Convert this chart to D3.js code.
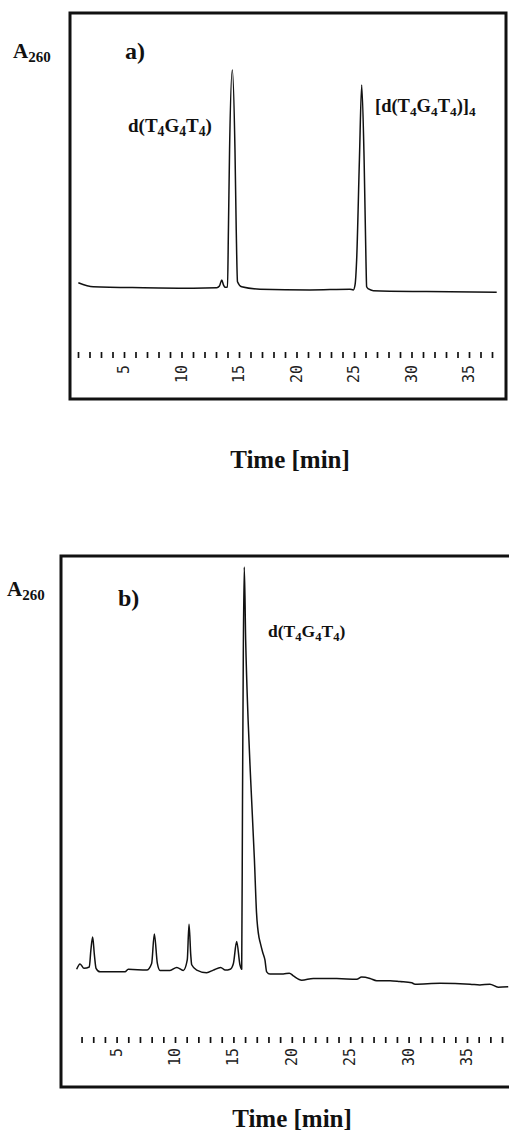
<!DOCTYPE html>
<html>
<head>
<meta charset="utf-8">
<script src="https://cdn.jsdelivr.net/npm/d3@7"></script>
<style>
  html, body { margin: 0; padding: 0; background: #fff; }
  svg { display: block; }
</style>
</head>
<body>
<div id="chart"></div>
<script>
// panel a) trace: retention time [min] and relative A260
const timesA = [1.03, 2.33, 6.68, 11.03, 13.06, 13.3, 13.5, 13.65, 13.78, 14.0, 14.08, 14.18, 14.42,
    14.65, 14.76, 14.87, 15.23, 16.83, 21.17, 24.65, 24.94, 25.09, 25.23, 25.47, 25.67, 25.88,
    26.04, 26.1, 26.26, 26.68, 31.32, 37.41];
const signalA = [7.2, 5.5, 5.1, 4.9, 5.1, 5.8, 8.3, 6.3, 5.3, 5.4, 29.2, 62.5, 95.8,
    62.5, 29.2, 7.6, 5.5, 4.5, 4.2, 4.5, 4.2, 6.3, 16.7, 58.3, 89.6, 58.3,
    16.7, 5.5, 4.6, 3.9, 3.5, 3.2];

// panel b) trace
const timesB = [1.58, 1.87, 2.21, 2.66, 2.8, 2.95, 3.1, 3.24, 3.58, 5.72, 6.0, 7.58, 8.0, 8.23, 8.49,
    8.72, 9.57, 10.15, 10.71, 11.05, 11.2, 11.35, 11.43, 11.86, 12.71, 13.28, 13.91, 14.3, 14.73,
    15.0, 15.28, 15.56, 15.71, 15.78, 15.85, 15.93, 16.05, 16.26, 16.48, 16.8, 16.98, 17.2, 17.28,
    17.5, 17.7, 17.85, 18.13, 19.27, 19.79, 20.13, 20.85, 21.84, 23.84, 25.56, 25.98, 26.7, 27.27,
    28.41, 29.26, 30.27, 30.55, 32.69, 35.26, 36.1, 36.96, 37.67, 38.53];
const signalB = [7.0, 8.2, 7.2, 7.5, 11.4, 14.3, 10.2, 7.2, 6.4, 6.4, 7.0, 6.8, 8.3, 15.0, 8.3,
    6.7, 6.7, 7.4, 6.7, 9.1, 17.2, 10.2, 8.0, 6.8, 6.2, 6.8, 7.4, 6.8, 7.0,
    8.3, 13.3, 8.0, 7.0, 45.5, 79.5, 98.4, 81.8, 63.6, 50.0, 31.8, 19.8, 14.1, 13.2,
    10.9, 9.1, 6.4, 5.9, 5.9, 6.1, 5.5, 4.5, 4.9, 4.9, 4.7, 5.2, 4.9, 4.4,
    4.4, 4.2, 3.9, 3.6, 3.8, 3.6, 3.4, 3.6, 2.9, 3.0];

const tickMinutesA = d3.range(1, 38);
const tickMinutesB = d3.range(2, 39);
const tickLabels = [5, 10, 15, 20, 25, 30, 35];

const axisTitle = 'Time [min]';
// label pieces: [text, isSubscript]
const yTitle = [['A', false], ['260', true]];
const monomer = [['d(T', false], ['4', true], ['G', false], ['4', true], ['T', false], ['4', true], [')', false]];
const quadruplex = [['[d(T', false], ['4', true], ['G', false], ['4', true], ['T', false], ['4', true], [')]', false], ['4', true]];

const width = 509, height = 1131;
const serif = '"Liberation Serif", "Times New Roman", serif';
const ink = '#111';

const svg = d3.select('#chart').append('svg')
    .attr('width', width)
    .attr('height', height);

function richText(g, x, y, parts, size, subSize, anchor) {
    const t = g.append('text')
        .attr('x', x)
        .attr('y', y)
        .attr('font-family', serif)
        .attr('font-weight', 'bold')
        .attr('font-size', size)
        .attr('fill', ink)
        .attr('text-anchor', anchor || 'start');
    let down = false;
    parts.forEach(([txt, sub]) => {
        const dy = sub === down ? 0 : (sub ? size * 0.2 : -size * 0.2);
        t.append('tspan')
            .attr('dy', dy)
            .attr('font-size', sub ? subSize : size)
            .text(txt);
        down = sub;
    });
    return t;
}

function panel(cfg) {
    const x = d3.scaleLinear().domain([0, 40]).range([cfg.x0, cfg.x0 + 40 * cfg.pxPerMin]);
    const y = d3.scaleLinear().domain([0, 100]).range([cfg.yBase, cfg.yTop]);

    const g = svg.append('g');

    // frame
    g.append('rect')
        .attr('x', cfg.frame[0])
        .attr('y', cfg.frame[1])
        .attr('width', cfg.frame[2] - cfg.frame[0])
        .attr('height', cfg.frame[3] - cfg.frame[1])
        .attr('fill', 'none')
        .attr('stroke', ink)
        .attr('stroke-width', 3);

    // chromatogram
    g.append('path')
        .datum(d3.zip(cfg.times, cfg.signal))
        .attr('fill', 'none')
        .attr('stroke', ink)
        .attr('stroke-width', 1.5)
        .attr('stroke-linejoin', 'round')
        .attr('d', d3.line()
            .x(d => x(d[0]))
            .y(d => y(d[1]))
            .curve(d3.curveMonotoneX));

    // time ticks (no axis line, like the recorder printout)
    const axis = g.append('g')
        .attr('transform', `translate(0, ${cfg.tickY})`)
        .call(d3.axisBottom(x).tickValues(cfg.ticks).tickSize(6).tickFormat(''));
    axis.select('.domain').remove();
    axis.selectAll('.tick line')
        .attr('stroke', ink)
        .attr('stroke-width', 1.7);

    g.selectAll('text.tlabel')
        .data(tickLabels)
        .join('text')
        .attr('class', 'tlabel')
        .attr('transform', d => `translate(${x(d) + 5}, ${cfg.labelTop}) rotate(-90)`)
        .attr('text-anchor', 'end')
        .attr('font-family', '"DejaVu Sans Mono", monospace')
        .attr('font-size', 15)
        .attr('fill', '#222')
        .text(d => d);

    g.append('text')
        .attr('x', cfg.titleX)
        .attr('y', cfg.titleY)
        .attr('text-anchor', 'middle')
        .attr('font-family', serif)
        .attr('font-weight', 'bold')
        .attr('font-size', 25)
        .attr('fill', ink)
        .text(axisTitle);

    richText(g, cfg.aX, cfg.aY, yTitle, 21, 15);

    g.append('text')
        .attr('x', cfg.tagX)
        .attr('y', cfg.tagY)
        .attr('font-family', serif)
        .attr('font-weight', 'bold')
        .attr('font-size', 24)
        .attr('fill', ink)
        .text(cfg.tag);

    cfg.notes.forEach(n => richText(g, n.x, n.y, n.parts, n.size, n.size * 0.72));
}

panel({
    times: timesA, signal: signalA, ticks: tickMinutesA,
    x0: 66.5, pxPerMin: 11.5, yBase: 300, yTop: 60,
    frame: [70, 13, 506, 399],
    tickY: 352, labelTop: 365,
    titleX: 290, titleY: 468,
    aX: 13, aY: 58, tag: 'a)', tagX: 125, tagY: 59,
    notes: [
        { x: 128, y: 132, parts: monomer, size: 19 },
        { x: 375, y: 112, parts: quadruplex, size: 18.5 }
    ]
});

panel({
    times: timesB, signal: signalB, ticks: tickMinutesB,
    x0: 58.2, pxPerMin: 11.68, yBase: 1000, yTop: 560,
    frame: [61, 556, 514, 1087],
    tickY: 1037, labelTop: 1048,
    titleX: 292, titleY: 1127,
    aX: 7, aY: 596, tag: 'b)', tagX: 118, tagY: 606,
    notes: [
        { x: 268, y: 637, parts: monomer, size: 17.5 }
    ]
});
</script>
</body>
</html>
